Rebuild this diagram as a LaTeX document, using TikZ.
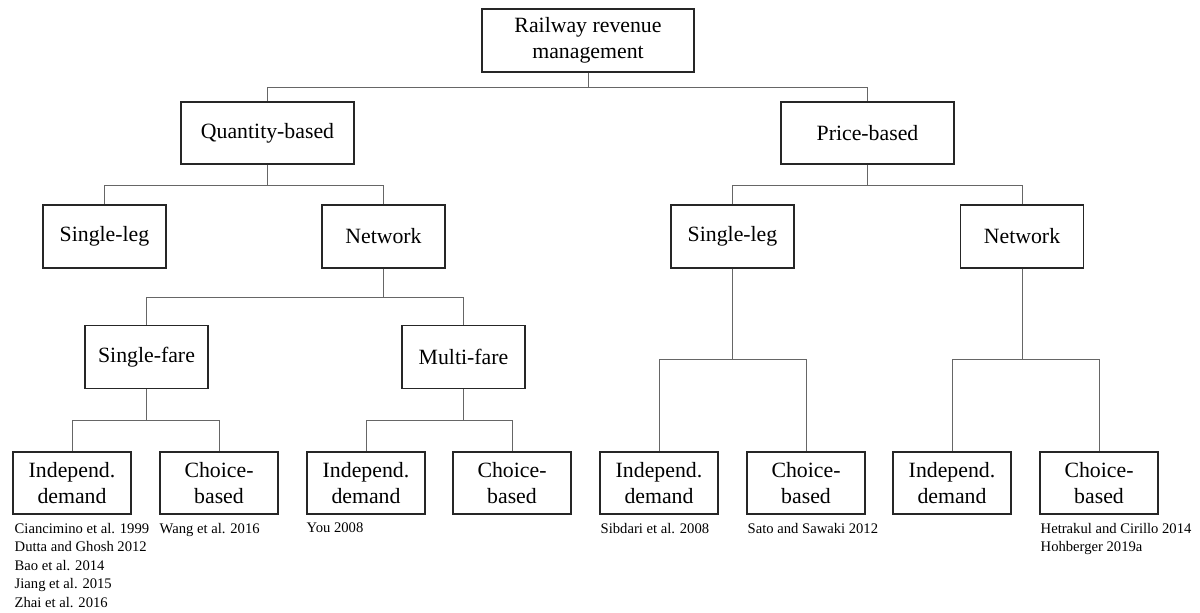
\documentclass[tikz,border=0pt]{standalone}
\usepackage{fontspec}
\setmainfont{Liberation Serif}

\begin{document}
\begin{tikzpicture}[x=0.025cm,y=-0.025cm,
  box/.style={draw=black!85,line width=0.8pt,align=center,inner sep=1pt,font=\fontsize{15.5}{18.8}\selectfont},
  topbox/.style={box,minimum width=5.3cm,minimum height=1.575cm},
  catbox/.style={box,minimum width=4.325cm,minimum height=1.55cm},
  subbox/.style={box,minimum width=3.075cm,minimum height=1.575cm},
  leafbox/.style={box,minimum width=2.95cm,minimum height=1.55cm},
  refs/.style={anchor=north west,inner sep=0pt,align=left,font=\fontsize{10.4}{13.2}\selectfont},
  link/.style={draw=black!60,line width=0.6pt}]
\useasboundingbox (0,0) rectangle (1200,612);

%root
\node[topbox] (root) at (588,40.5) {Railway revenue\\management};

%first level
\node[catbox] (qb) at (267.5,133) {Quantity-based};
\node[catbox] (pb) at (867.5,133) {Price-based};

%second level
\node[subbox] (qleg) at (104.5,236.5) {Single-leg};
\node[subbox] (qnet) at (383.5,236.5) {Network};
\node[subbox] (pleg) at (732.5,236.5) {Single-leg};
\node[subbox] (pnet) at (1022,236.5) {Network};

%fares
\node[subbox] (sfare) at (146.5,357) {Single-fare};
\node[subbox] (mfare) at (463.5,357) {Multi-fare};

%demand models
\node[leafbox] (sfind) at (72,483) {Independ.\\demand};
\node[leafbox] (sfcho) at (219,483) {Choice-\\based};
\node[leafbox] (mfind) at (366,483) {Independ.\\demand};
\node[leafbox] (mfcho) at (512,483) {Choice-\\based};
\node[leafbox] (plind) at (659,483) {Independ.\\demand};
\node[leafbox] (plcho) at (806,483) {Choice-\\based};
\node[leafbox] (pnind) at (952,483) {Independ.\\demand};
\node[leafbox] (pncho) at (1099,483) {Choice-\\based};

%literature
\node[refs] (sfindref) at ([shift={(2,8)}]sfind.south west) {Ciancimino et al. 1999\\Dutta and Ghosh 2012\\Bao et al. 2014\\Jiang et al. 2015\\Zhai et al. 2016};
\node[refs] (sfchoref) at ([shift={(0,8)}]sfcho.south west) {Wang et al. 2016};
\node[refs] (mfindref) at ([shift={(0,8)}]mfind.south west) {You 2008};
\node[refs] (plindref) at ([shift={(1,8)}]plind.south west) {Sibdari et al. 2008};
\node[refs] (plchoref) at ([shift={(1,8)}]plcho.south west) {Sato and Sawaki 2012};
\node[refs] (pnchoref) at ([shift={(1,8)}]pncho.south west) {Hetrakul and Cirillo 2014\\Hohberger 2019a};

%tree lines
\draw[link] (root.south) -- ++(0,15) -| (qb.north);
\draw[link] (root.south) -- ++(0,15) -| (pb.north);

\draw[link] (qb.south) -- ++(0,21) -| (qleg.north);
\draw[link] (qb.south) -- ++(0,21) -| (qnet.north);
\draw[link] (pb.south) -- ++(0,21) -| (pleg.north);
\draw[link] (pb.south) -- ++(0,21) -| (pnet.north);

\draw[link] (qnet.south) -- ++(0,29) -| (sfare.north);
\draw[link] (qnet.south) -- ++(0,29) -| (mfare.north);

\draw[link] (sfare.south) -- ++(0,31.5) -| (sfind.north);
\draw[link] (sfare.south) -- ++(0,31.5) -| (sfcho.north);
\draw[link] (mfare.south) -- ++(0,31.5) -| (mfind.north);
\draw[link] (mfare.south) -- ++(0,31.5) -| (mfcho.north);
\draw[link] (pleg.south) -- ++(0,91) -| (plind.north);
\draw[link] (pleg.south) -- ++(0,91) -| (plcho.north);
\draw[link] (pnet.south) -- ++(0,91) -| (pnind.north);
\draw[link] (pnet.south) -- ++(0,91) -| (pncho.north);
\end{tikzpicture}
\end{document}
